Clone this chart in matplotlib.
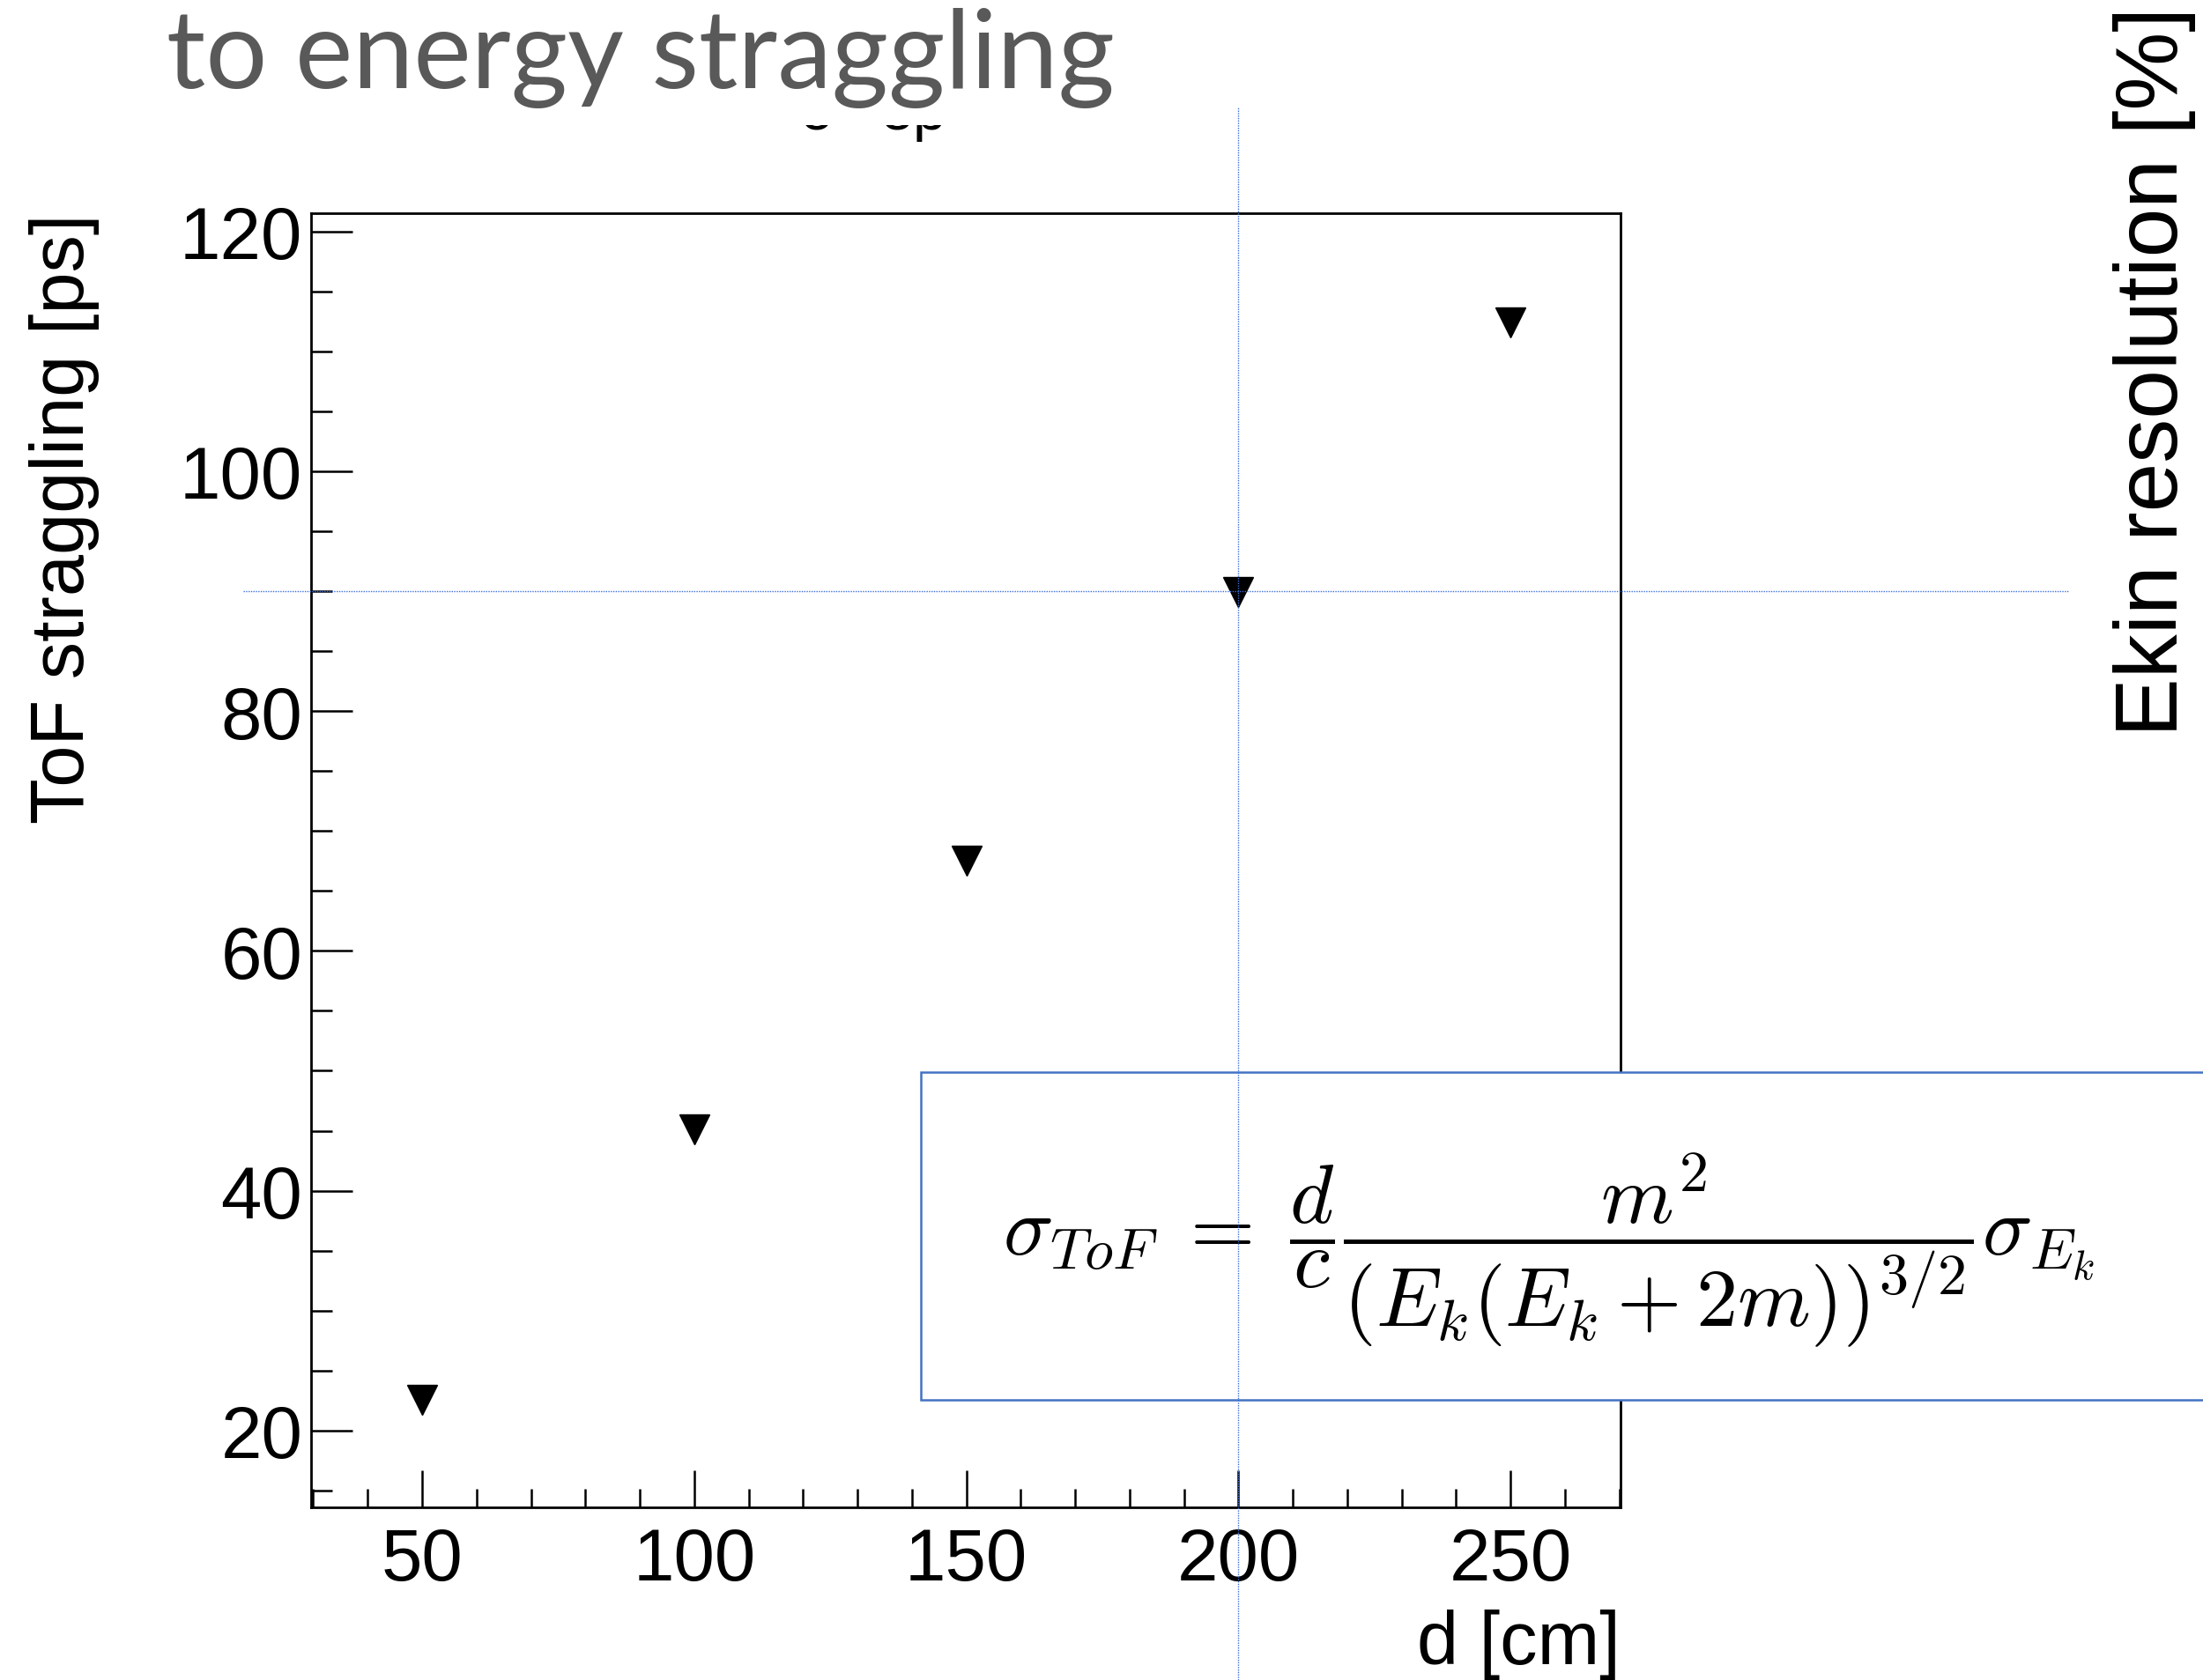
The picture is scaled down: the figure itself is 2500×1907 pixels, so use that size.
import matplotlib
matplotlib.use("Agg")
import matplotlib.pyplot as plt
from matplotlib.ticker import MultipleLocator
from matplotlib.patches import Rectangle
from matplotlib.lines import Line2D
from matplotlib.transforms import blended_transform_factory

# data
d_cm = [50, 100, 150, 200, 250]
tof_ps = [22.6, 45.1, 67.5, 89.9, 112.4]
x_ticks = [50, 100, 150, 200, 250]
y_ticks = [20, 40, 60, 80, 100, 120]
guide_x = 200
guide_y = 90

plt.rcParams['font.family'] = ['Liberation Sans', 'DejaVu Sans']
plt.rcParams['mathtext.fontset'] = 'cm'

fig = plt.figure(figsize=(25, 19.08), dpi=100)
ax = fig.add_axes([0.1412, 0.1027, 0.5944, 0.7699])

ax.plot(d_cm, tof_ps, linestyle='none', marker='v', color='black',
        markersize=25, zorder=3)

ax.set_xlim(29.6, 270.2)
ax.set_ylim(13.6, 121.5)
ax.set_xticks(x_ticks)
ax.set_yticks(y_ticks)
ax.xaxis.set_minor_locator(MultipleLocator(10))
ax.yaxis.set_minor_locator(MultipleLocator(5))
ax.tick_params(which='both', direction='in', top=False, right=False,
               width=1.8, labelsize=60)
ax.xaxis.set_tick_params(which='major', length=30, pad=15)
ax.xaxis.set_tick_params(which='minor', length=15)
ax.yaxis.set_tick_params(which='major', length=34, pad=7)
ax.yaxis.set_tick_params(which='minor', length=17)
for s in ax.spines.values():
    s.set_linewidth(2.0)

ax.set_xlabel('d [cm]', fontsize=61, loc='right')
ax.xaxis.set_label_coords(1.0, -0.1205)
ax.xaxis.label.set_verticalalignment('baseline')
ax.set_ylabel('ToF straggling [ps]', fontsize=61, loc='top')
ax.yaxis.set_label_coords(-0.1615, 1.0)

# right-hand axis title (axis itself is off the slide)
fig.text(0.9968, 0.9958, 'Ekin resolution [%]', fontsize=72, rotation=90,
         rotation_mode='anchor', ha='right', va='bottom')

# remains of the hidden ROOT title, mostly covered by the slide title box
for xp, s in [(907, 'o'), (998, 'ep')]:
    fig.text(xp / 2500, 1 - 147 / 1908, s, fontsize=49, ha='left',
             va='baseline', zorder=3)
fig.add_artist(Rectangle((880 / 2500, 1 - 143 / 1908), 240 / 2500, 143 / 1908,
                         transform=fig.transFigure, facecolor='white',
                         edgecolor='none', zorder=4))

# slide title, cut at the top
fig.text(0.0756, 1 - 100 / 1908, 'to energy straggling', fontsize=89,
         family='Lato', color='#595959', ha='left', va='baseline', zorder=6)

# formula box
fig.add_artist(Rectangle((1045 / 2500, 1 - 1590 / 1908), 0.7, (1590 - 1218) / 1908,
                         transform=fig.transFigure, facecolor='white',
                         edgecolor='#4472C4', linewidth=1.8, zorder=2))
fig.text(0.7032, 0.2558,
         r'$\sigma_{ToF} \;=\; \dfrac{d}{c}\dfrac{m^2}{(E_k(E_k+2m))^{3/2}}\sigma_{E_k}$',
         fontsize=68, ha='center', va='center', zorder=3)

# slide guides
tv = blended_transform_factory(ax.transData, fig.transFigure)
fig.add_artist(Line2D([guide_x, guide_x], [0, 1 - 123 / 1908], transform=tv,
                      color='#3a6fd8', linewidth=1.0, linestyle=(0, (1, 1)),
                      zorder=5))
th = blended_transform_factory(fig.transFigure, ax.transData)
fig.add_artist(Line2D([276 / 2500, 2348 / 2500], [guide_y, guide_y], transform=th,
                      color='#3a6fd8', linewidth=1.0, linestyle=(0, (1, 1)),
                      zorder=5))

fig.savefig('out.png', dpi=100)
